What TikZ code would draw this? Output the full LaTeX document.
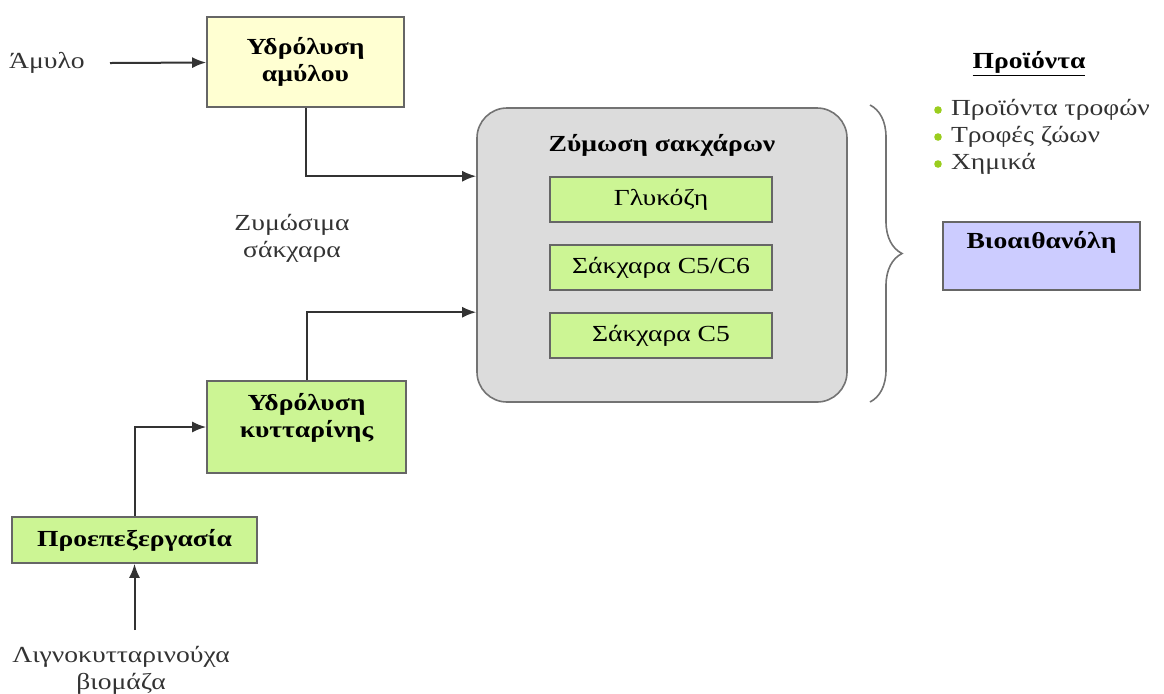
\documentclass[tikz,border=0pt]{standalone}
\usepackage{fontspec}
\setmainfont[FakeStretch=1.2]{Liberation Serif}
\usetikzlibrary{arrows.meta,decorations.pathreplacing}

\definecolor{boxyellow}{HTML}{FFFFD2}
\definecolor{boxgreen}{HTML}{CCF594}
\definecolor{boxgray}{HTML}{DCDCDC}
\definecolor{boxpurple}{HTML}{CCCCFF}
\definecolor{dotgreen}{HTML}{9ACD1E}

\tikzset{
	procbox/.style={draw=black!60, line width=0.8pt, inner sep=0pt, align=center, font=\bfseries},
	yellowbox/.style={procbox, fill=boxyellow, minimum width=98.5pt, minimum height=45pt},
	greenbox/.style={procbox, fill=boxgreen},
	sugarbox/.style={procbox, fill=boxgreen, minimum width=111pt, minimum height=22.5pt, font=\normalfont},
	boxtext/.style={align=center, font=\bfseries},
	plain/.style={text=black!80, align=center},
	arr/.style={-{Latex[length=7pt,width=5.5pt]}, line width=1pt, black!80},
	bul/.style={circle, fill=dotgreen, inner sep=0pt, minimum size=3.8pt}
}

\begin{document}
\fontsize{11.5}{13.5}\selectfont
\begin{tikzpicture}[x=0.5pt, y=-0.5pt]
	\useasboundingbox (0,0) rectangle (1164,693);
	
	% Inputs
	\node[plain] (amylo) at (47,63) {Άμυλο};
	\coordinate (amin) at (110,63);
	\node[plain] (ligno) at (121,670) {Λιγνοκυτταρινούχα\\βιομάζα};
	\coordinate (ligin) at (134.5,630);
	
	% Left boxes
	\node[yellowbox] (hydA) at (305.5,62) {Υδρόλυση\\αμύλου};
	\node[greenbox, minimum width=99.5pt, minimum height=46pt] (hydC) at (306.5,427) {};
	\node[boxtext] (hydCt) at (306.5,418) {Υδρόλυση\\κυτταρίνης};
	\node[greenbox, minimum width=122.5pt, minimum height=23pt] (pre) at (134.5,540) {Προεπεξεργασία};
	
	\node[plain] (zym) at (292,238) {Ζυμώσιμα\\σάκχαρα};
	
	% Fermentation block
	\node[draw=black!55, line width=0.8pt, fill=boxgray, rounded corners=15pt, minimum width=185pt, minimum height=147pt] (ferm) at (662,255) {};
	\node[boxtext] (fermt) at (662,145) {Ζύμωση σακχάρων};
	\node[sugarbox] (glu) at (661,199.5) {Γλυκόζη};
	\node[sugarbox] (c56) at (661,267.5) {Σάκχαρα C5/C6};
	\node[sugarbox] (c5) at (661,335.5) {Σάκχαρα C5};
	
	% Arrows
	\draw[arr] (amin) -- (hydA);
	\draw[arr] (hydA.south) |- (glu.north -| ferm.west);
	\draw[arr] (hydC.north) |- (c5.north -| ferm.west);
	\draw[arr] (pre.north) |- (hydC.west);
	\draw[arr] (ligin) -- (pre.south);
	
	% Brace
	\draw[black!55, line width=0.8pt, decorate, decoration={brace, amplitude=16pt}] (870,105) -- (870,402);
	
	% Products
	\node[boxtext] (prod) at (1029,64) {\underline{Προϊόντα}};
	\node[bul] (b1) at (938,110) {};
	\node[plain, anchor=west] (p1) at (943,110) {Προϊόντα τροφών};
	\node[bul] (b2) at (938,137) {};
	\node[plain, anchor=west] (p2) at (943,137) {Τροφές ζώων};
	\node[bul] (b3) at (938,164) {};
	\node[plain, anchor=west] (p3) at (943,164) {Χημικά};
	
	\node[procbox, fill=boxpurple, minimum width=98.5pt, minimum height=34pt] (bio) at (1041.5,256) {};
	\node[boxtext] (biot) at (1041.5,242) {Βιοαιθανόλη};
\end{tikzpicture}
\end{document}
